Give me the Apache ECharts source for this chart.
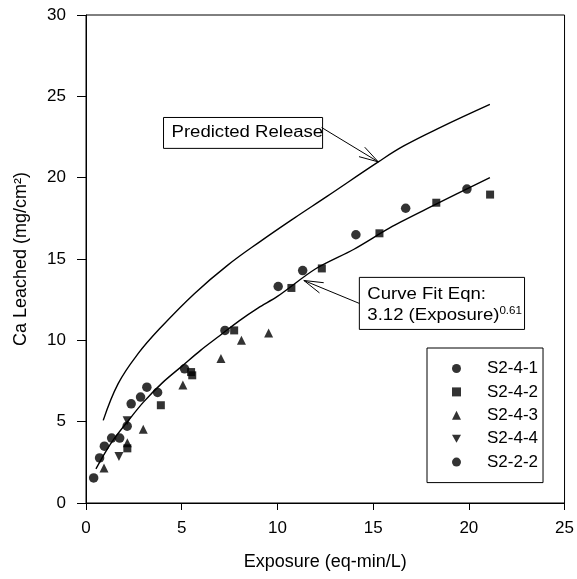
<!DOCTYPE html>
<html><head><meta charset="utf-8">
<script src="https://cdn.jsdelivr.net/npm/echarts@6/dist/echarts.min.js"></script>
<style>html,body{margin:0;padding:0;background:#fff}#c{width:577px;height:579px}</style>
</head><body><div id="c"></div>
<script>
// ---- data ----
const seriesNames = ['S2-4-1', 'S2-4-2', 'S2-4-3', 'S2-4-4', 'S2-2-2'];
const s241 = [[2.15,4.72],[3.74,6.80],[5.15,8.25],[7.26,10.61],[10.04,13.31],[11.32,14.29],[14.10,16.49],[16.70,18.12],[19.90,19.30]];
const s242 = [[2.16,3.36],[3.91,6.01],[5.49,8.05],[5.55,7.85],[7.74,10.61],[10.73,13.22],[12.32,14.42],[15.33,16.58],[18.30,18.46],[21.11,18.96]];
const s243 = [[0.94,2.15],[2.16,3.70],[2.99,4.54],[5.06,7.26],[7.05,8.89],[8.12,10.00],[9.54,10.45]];
const s244 = [[1.72,2.86],[2.15,5.06]];
const s222 = [[0.40,1.54],[0.71,2.77],[0.96,3.49],[1.34,3.99],[1.76,3.99],[2.36,6.10],[2.85,6.51],[3.18,7.12]];
const predicted = [[0.90,5.08],[1.68,7.34],[2.72,9.18],[3.93,10.82],[5.66,12.87],[7.39,14.61],[9.13,16.1],[10.86,17.5],[12.59,18.85],[15.27,20.97],[16.6,21.95],[18.52,23.09],[21.1,24.5]];
const curveFit = [[0.52,2.1],[1,3.1],[1.5,4.0],[2.2,5.05],[3,6.2],[4,7.4],[5,8.4],[6,9.4],[7,10.3],[8,11.2],[9,12.0],[10,12.7],[12,14.4],[14,15.6],[16,17.0],[18,18.2],[21.1,20.0]];
const xTicks = [0,5,10,15,20,25];
const yTicks = [0,5,10,15,20,25,30];
const predictedLabel = 'Predicted Release';
const fitLabel1 = 'Curve Fit Eqn:';
const fitLabel2 = '3.12 (Exposure)';
const fitExp = '0.61';
const predictedArrowTip = [15.27, 20.97];
const fitArrowTip = [11.38, 13.68];

const FONT = '"Liberation Sans", Arial, sans-serif';
const chart = echarts.init(document.getElementById('c'), null, {renderer: 'canvas'});
const invTri = 'path://M0,0 L10,0 L5,9 Z';
function sc(name, data, symbol, size) {
  return {type: 'scatter', name, data, symbol, symbolSize: size,
    itemStyle: {color: '#000'}, z: 5};
}
chart.setOption({
  animation: false,
  backgroundColor: '#fff',
  grid: {left: 86, right: 10, top: 15, bottom: 76, show: true, borderColor: '#000', borderWidth: 1, backgroundColor: 'transparent'},
  xAxis: {type: 'value', min: xTicks[0], max: xTicks[xTicks.length-1], interval: 5,
    name: 'Exposure (eq-min/L)', nameLocation: 'middle', nameGap: 50,
    nameTextStyle: {fontFamily: FONT, fontSize: 18, color: '#000'},
    axisLine: {lineStyle: {color: '#000', width: 1}},
    axisTick: {inside: false, length: 7, lineStyle: {color: '#000'}},
    axisLabel: {margin: 17, fontFamily: FONT, fontSize: 17, color: '#000'},
    splitLine: {show: false}},
  yAxis: {type: 'value', min: yTicks[0], max: yTicks[yTicks.length-1], interval: 5,
    name: 'Ca Leached (mg/cm²)', nameLocation: 'middle', nameGap: 56,
    nameTextStyle: {fontFamily: FONT, fontSize: 18, color: '#000'},
    axisLine: {lineStyle: {color: '#000', width: 1}},
    axisTick: {inside: false, length: 9, lineStyle: {color: '#000'}},
    axisLabel: {margin: 20, fontFamily: FONT, fontSize: 17, color: '#000'},
    splitLine: {show: false}},
  legend: {orient: 'vertical', left: 427, top: 348, padding: [12, 5, 12, 25],
    itemWidth: 9, itemHeight: 9, itemGap: 6.4,
    borderColor: '#000', borderWidth: 1,
    data: seriesNames,
    textStyle: {fontFamily: FONT, fontSize: 17, color: '#000', lineHeight: 17, padding: [0,0,0,21]}},
  series: [
    sc(seriesNames[0], s241, 'circle', 9.5),
    sc(seriesNames[1], s242, 'rect', 8),
    sc(seriesNames[2], s243, 'triangle', 9),
    sc(seriesNames[3], s244, invTri, 9),
    sc(seriesNames[4], s222, 'circle', 9.5),
    {type: 'line', name: 'predicted', data: predicted, smooth: 0.4, showSymbol: false, symbol: 'none',
      lineStyle: {color: '#000', width: 1.4}, z: 3},
    {type: 'line', name: 'fit', data: curveFit, smooth: 0.3, showSymbol: false, symbol: 'none',
      lineStyle: {color: '#000', width: 1.4}, z: 3}
  ]
});

function px(p) { return chart.convertToPixel({gridIndex: 0}, p); }
function arrow(tail, tip, len, ang) {
  const dx = tail[0]-tip[0], dy = tail[1]-tip[1];
  const a = Math.atan2(dy, dx);
  const els = [{type: 'line', shape: {x1: tail[0], y1: tail[1], x2: tip[0], y2: tip[1]}, style: {stroke: '#000', lineWidth: 1}}];
  [ang, -ang].forEach(d => {
    els.push({type: 'line', shape: {x1: tip[0], y1: tip[1], x2: tip[0]+len*Math.cos(a+d), y2: tip[1]+len*Math.sin(a+d)}, style: {stroke: '#000', lineWidth: 1}});
  });
  return els;
}
const pTip = px(predictedArrowTip);
const fTip = px(fitArrowTip);
const pBoxTL = px([4.05, 23.7]), pBoxBR = px([12.36, 21.8]);
const fBoxTL = px([14.28, 13.87]), fBoxBR = px([22.91, 10.67]);
const TS = 1.16;
const graphics = [
  {type: 'rect', shape: {x: pBoxTL[0], y: pBoxTL[1], width: pBoxBR[0]-pBoxTL[0], height: pBoxBR[1]-pBoxTL[1]},
    style: {fill: '#fff', stroke: '#000', lineWidth: 1}, z: 10},
  {type: 'text', x: pBoxTL[0]+8, y: (pBoxTL[1]+pBoxBR[1])/2, scaleX: TS, z: 11,
    style: {text: predictedLabel, font: '16px ' + FONT, fill: '#000', verticalAlign: 'middle'}},
  {type: 'rect', shape: {x: fBoxTL[0], y: fBoxTL[1], width: fBoxBR[0]-fBoxTL[0], height: fBoxBR[1]-fBoxTL[1]},
    style: {fill: '#fff', stroke: '#000', lineWidth: 1}, z: 10},
  {type: 'text', x: fBoxTL[0]+8, y: fBoxTL[1]+17, scaleX: TS, z: 11,
    style: {text: fitLabel1, font: '16px ' + FONT, fill: '#000', verticalAlign: 'middle'}},
  {type: 'text', x: fBoxTL[0]+8, y: fBoxTL[1]+38, scaleX: TS, z: 11,
    style: {text: '{a|' + fitLabel2 + '}{s|' + fitExp + '}', verticalAlign: 'middle',
      rich: {a: {fontSize: 16, fontFamily: FONT, color: '#000'},
             s: {fontSize: 10, fontFamily: FONT, color: '#000', verticalAlign: 'top', padding: [0,0,9,0]}}}}
];
arrow([pBoxBR[0]-1, pBoxTL[1]+10], pTip, 20, 0.28).forEach(e => { e.z = 12; graphics.push(e); });
arrow([fBoxTL[0], (fBoxTL[1]+fBoxBR[1])/2], fTip, 20, 0.28).forEach(e => { e.z = 12; graphics.push(e); });
chart.setOption({graphic: graphics});
</script>
</body></html>
